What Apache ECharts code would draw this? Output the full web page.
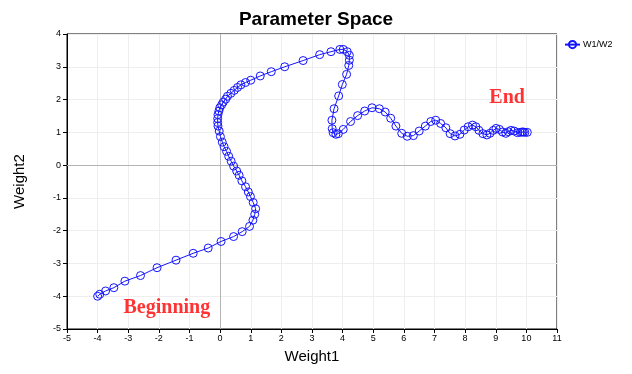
<!DOCTYPE html>
<html>
<head>
<meta charset="utf-8">
<script src="https://cdn.jsdelivr.net/npm/echarts@6/dist/echarts.min.js"></script>
<style>html,body{margin:0;padding:0;background:#fff;}#c{width:632px;height:374px;}</style>
</head>
<body>
<div id="c"></div>
<script>
var weight1 = [-4.00,-3.93,-3.74,-3.47,-3.11,-2.60,-2.06,-1.44,-0.88,-0.39,0.03,0.44,0.72,0.96,1.07,1.13,1.16,1.08,0.99,0.92,0.83,0.71,0.62,0.54,0.44,0.36,0.28,0.21,0.13,0.07,0.01,-0.03,-0.07,-0.08,-0.08,-0.07,-0.04,-0.01,0.05,0.10,0.18,0.24,0.35,0.46,0.57,0.68,0.83,1.00,1.31,1.67,2.11,2.71,3.25,3.62,3.91,4.02,4.15,4.22,4.22,4.20,4.13,3.99,3.87,3.72,3.65,3.66,3.69,3.78,3.86,4.02,4.26,4.49,4.72,4.96,5.20,5.39,5.57,5.74,5.93,6.11,6.31,6.50,6.70,6.88,7.04,7.20,7.37,7.51,7.67,7.83,7.97,8.10,8.24,8.35,8.45,8.58,8.71,8.81,8.92,9.01,9.12,9.22,9.33,9.41,9.50,9.60,9.71,9.80,9.86,9.90,9.95,10.03];
var weight2 = [-4.00,-3.94,-3.84,-3.74,-3.54,-3.37,-3.13,-2.90,-2.69,-2.53,-2.33,-2.18,-2.03,-1.87,-1.68,-1.50,-1.33,-1.14,-0.96,-0.82,-0.66,-0.48,-0.31,-0.18,-0.03,0.12,0.27,0.42,0.56,0.70,0.87,1.04,1.19,1.30,1.42,1.54,1.65,1.75,1.84,1.92,2.01,2.10,2.19,2.28,2.37,2.45,2.52,2.59,2.72,2.85,3.00,3.19,3.37,3.46,3.53,3.53,3.46,3.35,3.20,3.04,2.77,2.46,2.11,1.72,1.37,1.11,0.99,0.94,0.96,1.09,1.33,1.51,1.65,1.75,1.72,1.62,1.43,1.19,0.97,0.88,0.90,1.04,1.19,1.33,1.37,1.27,1.14,0.96,0.89,0.94,1.07,1.17,1.22,1.17,1.06,0.96,0.92,0.97,1.06,1.12,1.09,1.01,0.97,1.02,1.06,1.04,0.99,1.00,1.01,1.01,1.00,1.00];
var seriesName = 'W1/W2';
var titleText = 'Parameter Space';
var xName = 'Weight1', yName = 'Weight2';
var annotations = [{text:'Beginning', x:-1.74, y:-4.36}, {text:'End', x:9.37, y:2.04}];

var pts = weight1.map(function(v,i){return [v, weight2[i]];});
var chart = echarts.init(document.getElementById('c'));
var blue = '#1414ff';
chart.setOption({
  animation:false,
  backgroundColor:'#fff',
  title:{text:titleText, left:'center', top:5, textStyle:{fontFamily:'Liberation Sans, Arial', fontWeight:'bold', fontSize:19, color:'#000'}},
  legend:{data:[seriesName], left:559, top:35, itemWidth:15, itemHeight:9, itemGap:4,
    textStyle:{fontFamily:'Liberation Sans, Arial', fontSize:9, color:'#000', padding:[0,0,0,-2]}},
  grid:{left:67, right:75, top:34, bottom:45, show:true, borderColor:'#000', borderWidth:1},
  xAxis:{type:'value', min:-5, max:11, interval:1, name:xName, nameLocation:'middle', nameGap:20,
    nameTextStyle:{fontFamily:'Liberation Sans, Arial', fontSize:15, color:'#000'},
    axisLine:{onZero:false, lineStyle:{color:'#000'}}, axisTick:{show:true, length:4, lineStyle:{color:'#000'}},
    axisLabel:{fontFamily:'Liberation Sans, Arial', fontSize:9, color:'#000', margin:5},
    splitLine:{show:true, lineStyle:{color:'#eeeeee'}}},
  yAxis:{type:'value', min:-5, max:4, interval:1, name:yName, nameLocation:'middle', nameGap:40,
    nameTextStyle:{fontFamily:'Liberation Sans, Arial', fontSize:15, color:'#000'},
    axisLine:{onZero:false, lineStyle:{color:'#000'}}, axisTick:{show:true, length:4, lineStyle:{color:'#000'}},
    axisLabel:{fontFamily:'Liberation Sans, Arial', fontSize:9, color:'#000', margin:6},
    splitLine:{show:true, lineStyle:{color:'#eeeeee'}}},
  series:[{
    name:seriesName, type:'line', data:pts, symbol:'circle', symbolSize:8, showAllSymbol:true,
    lineStyle:{color:blue, width:1}, itemStyle:{color:'rgba(0,0,0,0)', borderColor:blue, borderWidth:1},
    emphasis:{disabled:true},
    markLine:{silent:true, symbol:'none', label:{show:false}, lineStyle:{color:'#b4b4b4', type:'solid', width:1},
      data:[{xAxis:0},{yAxis:0}], z:1},
    z:3
  },{
    type:'scatter', data:annotations.map(function(a){return {value:[a.x,a.y], label:{formatter:a.text}};}),
    symbolSize:0, silent:true,
    label:{show:true, position:'inside', color:'#ff0000', fontFamily:'Liberation Serif, Times New Roman', fontWeight:'bold', fontSize:20}
  }]
});
</script>
</body>
</html>
